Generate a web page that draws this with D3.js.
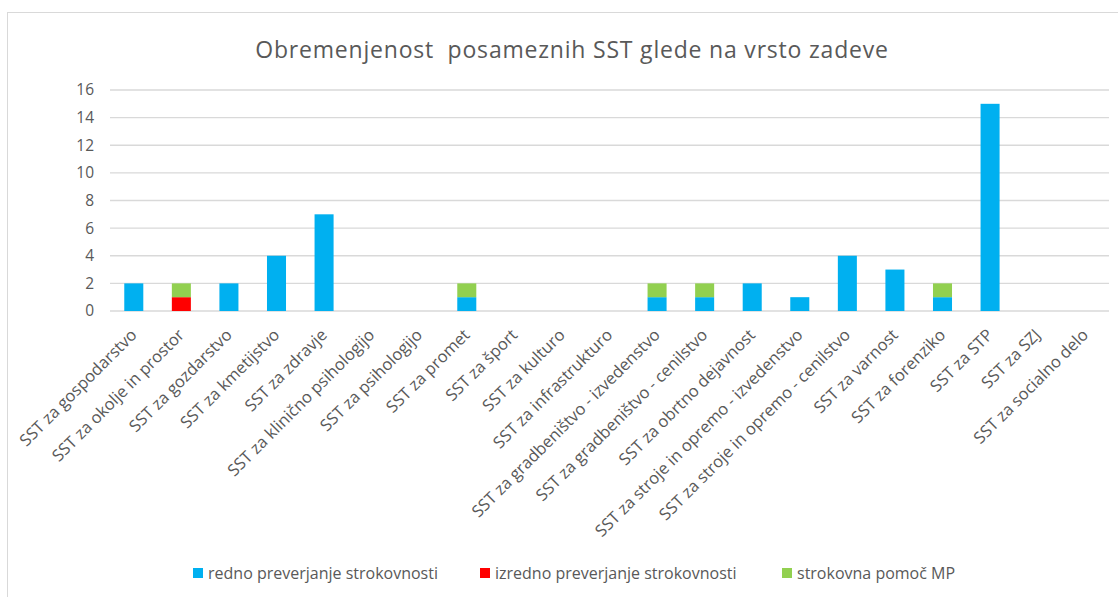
<!DOCTYPE html>
<html>
<head>
<meta charset="utf-8">
<script src="https://cdn.jsdelivr.net/npm/d3@7"></script>
<style>
  body { margin: 0; background: #fff; }
  text { font-family: "Open Sans", sans-serif; fill: #595959; }
</style>
</head>
<body>
<svg width="1118" height="597"></svg>
<script>
// categories and values
const categories = [
  "SST za gospodarstvo", "SST za okolje in prostor", "SST za gozdarstvo", "SST za kmetijstvo",
  "SST za zdravje", "SST za klinično psihologijo", "SST za psihologijo", "SST za promet",
  "SST za šport", "SST za kulturo", "SST za infrastrukturo", "SST za gradbeništvo - izvedenstvo",
  "SST za gradbeništvo - cenilstvo", "SST za obrtno dejavnost", "SST za stroje in opremo - izvedenstvo",
  "SST za stroje in opremo - cenilstvo", "SST za varnost", "SST za forenziko", "SST za STP",
  "SST za SZJ", "SST za socialno delo"
];
const redno   = [2, 0, 2, 4, 7, 0, 0, 1, 0, 0, 0, 1, 1, 2, 1, 4, 3, 1, 15, 0, 0];
const izredno = [0, 1, 0, 0, 0, 0, 0, 0, 0, 0, 0, 0, 0, 0, 0, 0, 0, 0, 0, 0, 0];
const pomoc   = [0, 1, 0, 0, 0, 0, 0, 1, 0, 0, 0, 1, 1, 0, 0, 0, 0, 1, 0, 0, 0];
const seriesNames = ["redno preverjanje strokovnosti", "izredno preverjanje strokovnosti", "strokovna pomoč MP"];
const seriesColors = ["#00B0F0", "#FF0000", "#92D050"];
const yTicks = [0, 2, 4, 6, 8, 10, 12, 14, 16];

const svg = d3.select("svg");

// outer chart border
svg.append("rect")
  .attr("x", 7.5).attr("y", 12.5)
  .attr("width", 1130).attr("height", 600)
  .attr("fill", "none").attr("stroke", "#d9d9d9");

const x0 = 110, x1 = 1109, yTop = 90, yBot = 311;

const xScale = d3.scaleBand()
  .domain(categories)
  .range([x0, x1])
  .paddingInner(0.6)
  .paddingOuter(0.3);

const yScale = d3.scaleLinear()
  .domain([0, 16])
  .range([yBot, yTop]);

// gridlines
svg.append("g")
  .selectAll("line")
  .data(yTicks)
  .join("line")
  .attr("x1", x0).attr("x2", x1)
  .attr("y1", d => yScale(d)).attr("y2", d => yScale(d))
  .attr("stroke", "#d9d9d9").attr("stroke-width", 1.3);

// y axis labels
const yAxis = svg.append("g")
  .attr("transform", `translate(${x0}, 0)`)
  .call(d3.axisLeft(yScale).tickValues(yTicks).tickSize(0).tickPadding(16));
yAxis.select(".domain").remove();
yAxis.selectAll("text").style("font-size", "15.5px").attr("fill", "#595959");

// stacked bars
const rows = categories.map((c, i) => ({ cat: c, s0: redno[i], s1: izredno[i], s2: pomoc[i] }));
const stack = d3.stack().keys(["s0", "s1", "s2"])(rows);

svg.append("g")
  .selectAll("g")
  .data(stack)
  .join("g")
  .attr("fill", (d, i) => seriesColors[i])
  .selectAll("rect")
  .data(d => d)
  .join("rect")
  .attr("x", d => xScale(d.data.cat))
  .attr("y", d => yScale(d[1]))
  .attr("width", xScale.bandwidth())
  .attr("height", d => yScale(d[0]) - yScale(d[1]));

// x axis labels, rotated
const xAxis = svg.append("g")
  .attr("transform", `translate(0, ${yBot})`)
  .call(d3.axisBottom(xScale).tickSize(0).tickPadding(0));
xAxis.select(".domain").remove();
xAxis.selectAll("text")
  .style("font-size", "16.5px")
  .attr("fill", "#595959")
  .attr("text-anchor", "end")
  .attr("dy", null)
  .attr("transform", "translate(4, 25) rotate(-45)");

// title
svg.append("text")
  .attr("x", 572).attr("y", 58)
  .attr("text-anchor", "middle")
  .attr("xml:space", "preserve")
  .style("white-space", "pre")
  .style("font-size", "23px")
  .style("letter-spacing", "0.8px")
  .text("Obremenjenost  posameznih SST glede na vrsto zadeve");

// legend
const legendX = [193, 480, 782];
const legend = svg.append("g");
seriesNames.forEach((n, i) => {
  legend.append("rect")
    .attr("x", legendX[i]).attr("y", 568)
    .attr("width", 10).attr("height", 10)
    .attr("fill", seriesColors[i]);
  legend.append("text")
    .attr("x", legendX[i] + 15).attr("y", 579)
    .style("font-size", "16px")
    .text(n);
});
</script>
</body>
</html>
